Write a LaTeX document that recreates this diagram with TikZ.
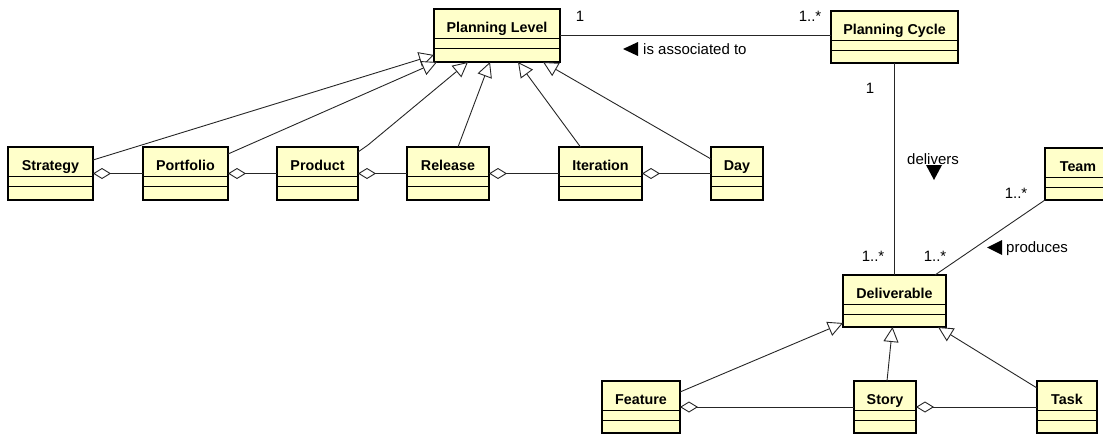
\documentclass[tikz,border=0pt]{standalone}
\usepackage{fontspec}
\setmainfont{Liberation Sans}
\usetikzlibrary{arrows.meta,calc,fit}
\definecolor{clsfill}{RGB}{255,255,202}
\tikzset{
  clsbox/.style={draw, line width=1.6pt, fill=clsfill, inner sep=0pt, outer sep=0pt},
  clstitle/.style={font=\fontsize{14.3}{16}\selectfont\bfseries, anchor=base, inner sep=0pt},
  comp/.style={line width=0.8pt},
  conn/.style={line width=0.9pt, draw=black!85},
  gen/.style={conn, -{Triangle[fill=white, length=15pt, width=15pt]}},
  agg/.style={conn, {Diamond[fill=white, length=18pt, width=11pt]}-},
  lbl/.style={font=\fontsize{15}{17}\selectfont, inner sep=0pt},
  dirmark/.style={fill=black},
}
\newcommand{\umlcls}[6]{%
  \node[clsbox, fit={(#2,#3) (#4,#5)}] (#1) {};
  \node[clstitle] (#1-t) at ($(#1.north)+(0,23)$) {#6};
  \draw[comp] ($(#1.north west)+(0,29.5)$) -- ($(#1.north east)+(0,29.5)$);
  \draw[comp] ($(#1.north west)+(0,39.5)$) -- ($(#1.north east)+(0,39.5)$);
}
\begin{document}
\begin{tikzpicture}[x=1pt,y=-1pt]
\useasboundingbox (0,0) rectangle (1103,434);
% classes
\umlcls{pl}{434}{9}{560}{62}{Planning Level}
\umlcls{pc}{831}{11}{958}{63}{Planning Cycle}
\umlcls{strategy}{8}{147}{93}{200}{Strategy}
\umlcls{portfolio}{143}{147}{228}{200}{Portfolio}
\umlcls{product}{277}{147}{358}{200}{Product}
\umlcls{release}{407}{147}{489}{200}{Release}
\umlcls{iteration}{559}{147}{642}{200}{Iteration}
\umlcls{day}{711}{147}{763}{200}{Day}
\umlcls{team}{1045}{148}{1111}{200}{Team}
\umlcls{deliv}{843}{275}{946}{327}{Deliverable}
\umlcls{feature}{602}{381}{680}{433}{Feature}
\umlcls{story}{854}{381}{916}{433}{Story}
\umlcls{task}{1037}{381}{1097}{433}{Task}

% generalizations to Planning Level
\draw[gen] ($(strategy.north east)+(0,13)$) -- ($(pl.south west)+(0,-7)$);
\draw[gen] ($(portfolio.north east)+(0,7)$) -- ($(pl.south west)+(3,0)$);
\draw[gen] ($(product.north east)+(0,5)$) -- ($(product.north east)+(10,-2)$) -- ($(pl.south west)+(34,0)$);
\draw[gen] ($(release.north)+(10,0)$) -- ($(pl.south west)+(56,0)$);
\draw[gen] ($(iteration.north)+(-20,0)$) -- ($(pl.south west)+(84,0)$);
\draw[gen] ($(day.north west)+(0,12)$) -- ($(pl.south west)+(109,0)$);

% aggregations
\draw[agg] (strategy.east) -- (portfolio.west);
\draw[agg] (portfolio.east) -- (product.west);
\draw[agg] (product.east) -- (release.west);
\draw[agg] (release.east) -- (iteration.west);
\draw[agg] (iteration.east) -- (day.west);
\draw[agg] (feature.east) -- (story.west);
\draw[agg] (story.east) -- (task.west);

% associations
\draw[conn] (pl.east) -- (pl.east -| pc.west);
\draw[conn] (pc.south) -- (deliv.north);
\draw[conn] (team.south west) -- ($(deliv.north east)+(-11,0)$);

% generalizations to Deliverable
\draw[gen] ($(feature.north east)+(0,11)$) -- ($(deliv.south west)+(0,-4)$);
\draw[gen] ($(story.north)+(2,0)$) -- ($(deliv.south)+(-2,0)$);
\draw[gen] ($(task.north west)+(0,7)$) -- ($(deliv.south east)+(-8,0)$);

% labels
\node[lbl, anchor=base] (m1) at (580,21) {1};
\node[lbl, anchor=base] (m2) at (810,21) {1..*};
\fill[dirmark] (623,49) -- (638,42) -- (638,56) -- cycle;
\node[lbl, anchor=base west] (assoc) at (643,54) {is associated to};
\node[lbl, anchor=base] (m3) at (870,93) {1};
\node[lbl, anchor=base] (delivers) at (933,164) {delivers};
\fill[dirmark] (926,165) -- (942,165) -- (934,180) -- cycle;
\node[lbl, anchor=base] (m4) at (873,261) {1..*};
\node[lbl, anchor=base] (m5) at (935,261) {1..*};
\node[lbl, anchor=base] (m6) at (1016,198) {1..*};
\fill[dirmark] (987,247.5) -- (1002,240) -- (1002,255) -- cycle;
\node[lbl, anchor=base west] (produces) at (1006,252) {produces};
\end{tikzpicture}
\end{document}
